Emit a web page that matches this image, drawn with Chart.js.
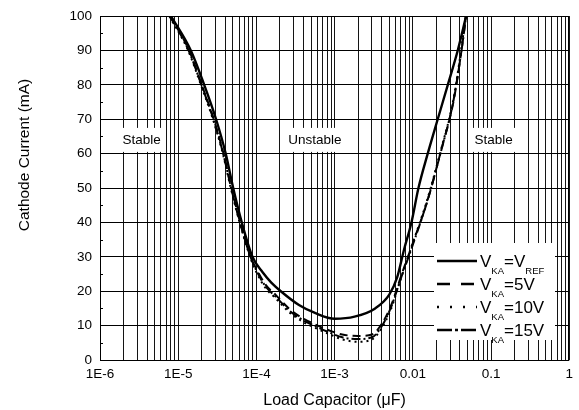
<!DOCTYPE html>
<html>
<head>
<meta charset="utf-8">
<script src="https://cdn.jsdelivr.net/npm/chart.js@4/dist/chart.umd.min.js"></script>
<style>
  html, body { margin: 0; padding: 0; background: #ffffff; }
  #wrap { width: 579px; height: 410px; }
</style>
</head>
<body>
<div id="wrap"><canvas id="chart" width="579" height="410"></canvas></div>
<script>
// ---------------------------------------------------------------------------
// Data
// ---------------------------------------------------------------------------

// x tick labels (load capacitor, uF) and where they sit
const xTickValues = [1e-6, 1e-5, 1e-4, 1e-3, 1e-2, 1e-1, 1];
const xTickLabels = ['1E-6', '1E-5', '1E-4', '1E-3', '0.01', '0.1', '1'];

// VKA = VREF (solid)
const capRef = [8.1e-6, 1.45e-5, 2.15e-5, 3.05e-5, 4.05e-5, 5.05e-5, 6.5e-5, 8.9e-5, 1.2e-4, 1.55e-4,
  2.05e-4, 3.5e-4, 5.7e-4, 1.0e-3, 1.8e-3, 3.3e-3, 5.0e-3, 6.3e-3, 7.7e-3, 9.6e-3, 1.18e-2, 1.55e-2,
  2.08e-2, 2.8e-2, 3.75e-2, 4.8e-2];
const currentRef = [100, 90, 80, 70, 60, 50, 40, 30, 25.5, 22.5, 20, 16, 13.6, 12, 12.6, 15, 19, 24,
  32, 40, 50, 60, 70, 80, 90, 100];

// VKA = 5V (dashed)
const cap5V = [7.9e-6, 1.38e-5, 2.0e-5, 2.85e-5, 3.8e-5, 4.8e-5, 6.2e-5, 8.4e-5, 1.0e-4, 1.3e-4,
  1.75e-4, 2.6e-4, 3.8e-4, 5.7e-4, 9.0e-4, 1.25e-3, 2.0e-3, 3.0e-3, 4.0e-3, 5.3e-3, 7.1e-3, 1.0e-2,
  1.55e-2, 2.3e-2, 3.3e-2, 4.1e-2, 4.8e-2];
const current5V = [100, 90, 80, 70, 60, 50, 40, 30, 26.5, 22, 19, 15, 12.3, 10.3, 8.4, 7.4, 7.0, 7.4,
  10.5, 16, 24.5, 34, 46.5, 61, 75, 88.5, 100];

// VKA = 10V (dotted)
const cap10V = [7.7e-6, 1.34e-5, 1.95e-5, 2.78e-5, 3.72e-5, 4.7e-5, 6.1e-5, 8.3e-5, 1.0e-4, 1.3e-4,
  1.75e-4, 2.6e-4, 3.8e-4, 5.7e-4, 9.0e-4, 1.25e-3, 2.0e-3, 3.0e-3, 4.0e-3, 5.3e-3, 7.1e-3, 9.8e-3,
  1.5e-2, 2.25e-2, 3.25e-2, 4.05e-2, 4.75e-2];
const current10V = [100, 90, 80, 70, 60, 50, 40, 30, 25.5, 21, 18, 14, 11.3, 9.3, 7.3, 6.0, 5.3, 6.0,
  9.3, 15, 24, 33.5, 46, 60.5, 75, 88.5, 100];

// VKA = 15V (dash-dot)
const cap15V = [7.8e-6, 1.36e-5, 1.98e-5, 2.82e-5, 3.76e-5, 4.75e-5, 6.15e-5, 8.4e-5, 1.0e-4, 1.3e-4,
  1.75e-4, 2.6e-4, 3.8e-4, 5.7e-4, 9.0e-4, 1.25e-3, 2.0e-3, 3.0e-3, 4.0e-3, 5.3e-3, 7.1e-3, 1.0e-2,
  1.52e-2, 2.28e-2, 3.28e-2, 4.1e-2, 4.8e-2];
const current15V = [100, 90, 80, 70, 60, 50, 40, 30, 26, 21.5, 18.5, 14.5, 11.8, 9.8, 7.8, 6.6, 6.1,
  6.6, 9.8, 15.5, 24, 33.5, 46, 60.5, 75, 88.5, 100];

// legend text pieces: [normal, subscript, normal, subscript...]
const seriesLabels = [
  ['V', 'KA', '=V', 'REF'],
  ['V', 'KA', '=5V'],
  ['V', 'KA', '=10V'],
  ['V', 'KA', '=15V']
];

// region labels
const regionNames = ['Stable', 'Unstable', 'Stable'];
const regionCaps = [3.4e-6, 5.6e-4, 0.108];
const regionCurrent = 64;

// ---------------------------------------------------------------------------
// Helpers
// ---------------------------------------------------------------------------

const FONT = "'Liberation Sans', Arial, Helvetica, sans-serif";

function toPoints(xs, ys) {
  return xs.map((x, i) => ({ x, y: ys[i] }));
}

// every 1..9 x 10^n grid position between 1e-6 and 1
const xGridValues = [];
for (let e = -6; e <= 0; e++) {
  for (let m = 1; m <= 9; m++) {
    const v = m * Math.pow(10, e);
    if (v <= 1.0000001) xGridValues.push(v);
  }
}

function xLabelFor(value) {
  const idx = xTickValues.findIndex(t => Math.abs(Math.log10(t) - Math.log10(value)) < 1e-6);
  return idx >= 0 ? xTickLabels[idx] : '';
}

function lineDataset(label, xs, ys, dash, width) {
  return {
    label,
    data: toPoints(xs, ys),
    borderColor: '#000000',
    backgroundColor: '#000000',
    borderWidth: width,
    borderDash: dash,
    pointRadius: 0,
    fill: false,
    cubicInterpolationMode: 'monotone'
  };
}

// ---------------------------------------------------------------------------
// Decorations: region boxes, minor y ticks, frame, legend, y title
// ---------------------------------------------------------------------------

const legendDash = [[], [13, 11], [2, 11], [15, 3, 3, 3]];

const decorPlugin = {
  id: 'decor',
  beforeDatasetsDraw(chart) {
    const { ctx, chartArea, scales } = chart;
    ctx.save();

    // minor y ticks at the 5s
    ctx.strokeStyle = '#000';
    ctx.lineWidth = 1;
    for (let v = 5; v < 100; v += 10) {
      const y = Math.round(scales.y.getPixelForValue(v)) + 0.5;
      ctx.beginPath();
      ctx.moveTo(chartArea.left, y);
      ctx.lineTo(chartArea.left + 3, y);
      ctx.stroke();
    }

    // region labels with white boxes
    ctx.font = '13.5px ' + FONT;
    ctx.textAlign = 'center';
    ctx.textBaseline = 'middle';
    regionNames.forEach((name, i) => {
      const cx = scales.x.getPixelForValue(regionCaps[i]);
      const cy = scales.y.getPixelForValue(regionCurrent);
      const w = ctx.measureText(name).width + 8;
      ctx.fillStyle = '#ffffff';
      ctx.fillRect(cx - w / 2, cy - 12, w, 24);
      ctx.fillStyle = '#000000';
      ctx.fillText(name, cx, cy);
    });
    ctx.restore();
  },
  afterDatasetsDraw(chart) {
    const { ctx, chartArea } = chart;
    ctx.save();

    // frame
    ctx.strokeStyle = '#000';
    ctx.lineWidth = 1;
    ctx.strokeRect(Math.round(chartArea.left) + 0.5, Math.round(chartArea.top) + 0.5,
      Math.round(chartArea.right - chartArea.left) - 1, Math.round(chartArea.bottom - chartArea.top));

    // legend
    const boxX = 434, boxY = 243, boxW = 121, boxH = 97;
    ctx.fillStyle = '#ffffff';
    ctx.fillRect(boxX, boxY, boxW, boxH);

    chart.data.datasets.forEach((ds, i) => {
      const rowY = 261 + i * 23;
      ctx.strokeStyle = '#000';
      ctx.lineWidth = 2.6;
      ctx.setLineDash(legendDash[i]);
      ctx.beginPath();
      ctx.moveTo(437, rowY);
      ctx.lineTo(477, rowY);
      ctx.stroke();
      ctx.setLineDash([]);

      let x = 480;
      const base = rowY + 6;
      ctx.fillStyle = '#000';
      ctx.textAlign = 'left';
      ctx.textBaseline = 'alphabetic';
      seriesLabels[i].forEach((part, k) => {
        const sub = k % 2 === 1;
        ctx.font = (sub ? '9.5px ' : '17px ') + FONT;
        ctx.fillText(part, x, sub ? base + 6.5 : base);
        x += ctx.measureText(part).width;
      });
    });

    // y axis title
    ctx.translate(25, 155);
    ctx.rotate(-Math.PI / 2);
    ctx.font = '15.5px ' + FONT;
    ctx.fillStyle = '#000';
    ctx.textAlign = 'center';
    ctx.textBaseline = 'middle';
    ctx.fillText('Cathode Current (mA)', 0, 0);
    ctx.restore();
  }
};

// ---------------------------------------------------------------------------
// Chart
// ---------------------------------------------------------------------------

new Chart(document.getElementById('chart'), {
  type: 'line',
  data: {
    datasets: [
      lineDataset('VKA=VREF', capRef, currentRef, [], 2.4),
      lineDataset('VKA=5V', cap5V, current5V, [8, 5], 2),
      lineDataset('VKA=10V', cap10V, current10V, [2, 4], 2),
      lineDataset('VKA=15V', cap15V, current15V, [9, 3, 2, 3], 2)
    ]
  },
  options: {
    responsive: false,
    animation: false,
    devicePixelRatio: 1,
    layout: { padding: { top: 14, right: 7, left: 0, bottom: 0 } },
    plugins: {
      legend: { display: false },
      tooltip: { enabled: false }
    },
    scales: {
      x: {
        type: 'logarithmic',
        min: 1e-6,
        max: 1,
        afterBuildTicks: (scale) => {
          scale.ticks = xGridValues.map(v => ({ value: v }));
        },
        afterFit: (scale) => { scale.height = 50; },
        grid: { color: '#141414', lineWidth: 1, drawTicks: false },
        border: { display: false },
        ticks: {
          autoSkip: false,
          maxRotation: 0,
          padding: 6,
          color: '#000',
          font: { family: FONT, size: 13.5 },
          callback: (value) => xLabelFor(value)
        },
        title: {
          display: true,
          text: 'Load Capacitor (\u03bcF)',
          color: '#000',
          font: { family: FONT, size: 16 },
          padding: { top: 0, bottom: 0 }
        }
      },
      y: {
        type: 'linear',
        min: 0,
        max: 100,
        afterFit: (scale) => { scale.width = 100; },
        grid: { color: '#000000', lineWidth: 1, drawTicks: false },
        border: { display: false },
        ticks: {
          stepSize: 10,
          padding: 8,
          color: '#000',
          font: { family: FONT, size: 13.5 }
        }
      }
    }
  },
  plugins: [decorPlugin]
});
</script>
</body>
</html>
